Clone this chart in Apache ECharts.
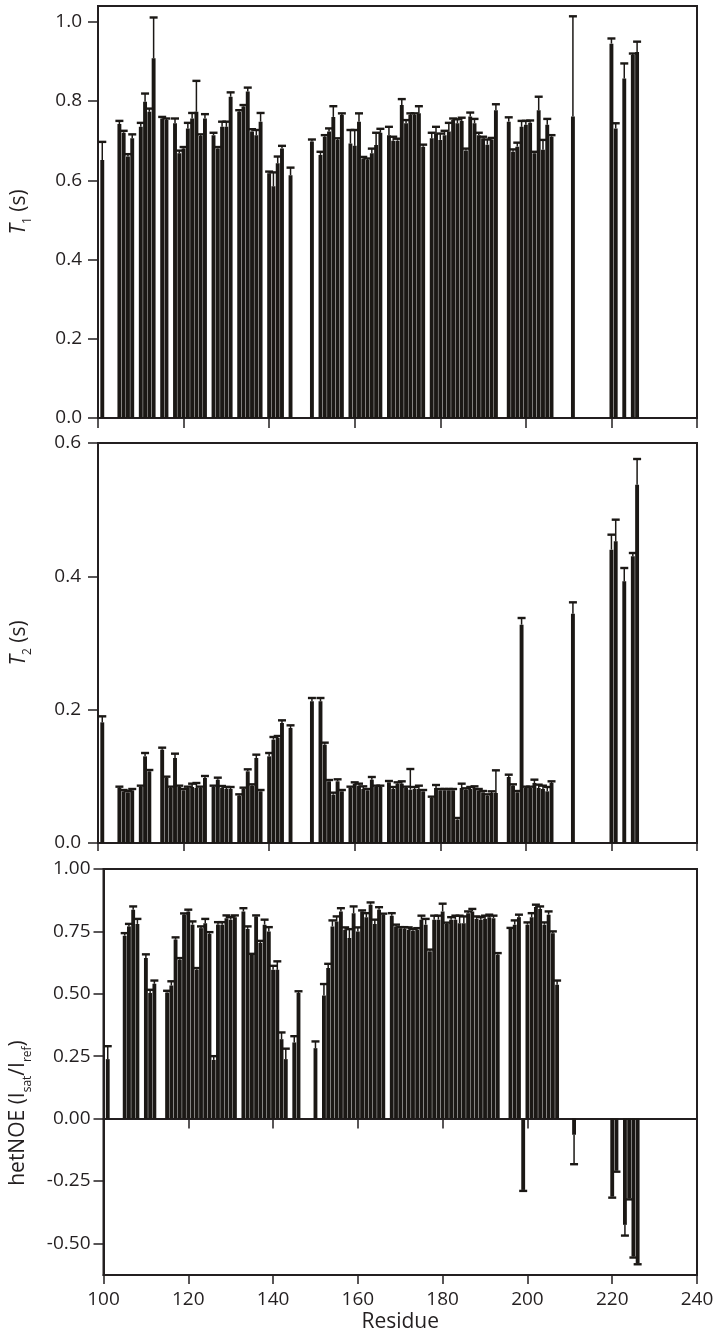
<!DOCTYPE html>
<html>
<head>
<meta charset="utf-8">
<script src="https://cdn.jsdelivr.net/npm/echarts@6/dist/echarts.min.js"></script>
<style>
html,body{margin:0;padding:0;background:#fff;}
#chart{width:722px;height:1336px;}
</style>
</head>
<body>
<div id="chart"></div>
<script>
// ---------- DATA ----------
const xTicks = [100, 120, 140, 160, 180, 200, 220, 240];
const t1Ticks = [0, 0.2, 0.4, 0.6, 0.8, 1.0];
const t2Ticks = [0, 0.2, 0.4, 0.6];
const noeTicks = [-0.5, -0.25, 0, 0.25, 0.5, 0.75, 1.0];

const t1Res = [101,105,106,107,108,110,111,112,113,115,116,118,119,120,121,122,123,124,125,127,128,129,130,131,133,134,135,136,137,138,140,141,142,143,145,150,152,153,154,155,156,157,159,160,161,162,163,164,165,166,168,169,170,171,172,173,174,175,176,178,179,180,181,182,183,184,185,186,187,188,189,190,191,192,193,196,197,198,199,200,201,202,203,204,205,206,211,220,221,223,225,226];
const t1Val = [0.651,0.742,0.720,0.660,0.706,0.735,0.798,0.773,0.908,0.756,0.752,0.744,0.668,0.680,0.731,0.756,0.773,0.712,0.756,0.714,0.680,0.735,0.735,0.811,0.773,0.786,0.824,0.723,0.714,0.748,0.618,0.585,0.643,0.680,0.613,0.698,0.664,0.710,0.723,0.760,0.702,0.765,0.693,0.687,0.748,0.655,0.651,0.668,0.689,0.720,0.714,0.700,0.700,0.790,0.744,0.765,0.765,0.769,0.685,0.706,0.718,0.702,0.714,0.723,0.752,0.744,0.750,0.675,0.761,0.744,0.714,0.706,0.690,0.703,0.777,0.748,0.672,0.685,0.735,0.740,0.745,0.668,0.777,0.677,0.740,0.710,0.761,0.945,0.731,0.857,0.916,0.924];
const t1Err = [0.046,0.008,0.005,0.006,0.010,0.010,0.021,0.008,0.103,0.004,0.004,0.012,0.007,0.004,0.014,0.014,0.078,0.004,0.011,0.006,0.004,0.013,0.013,0.011,0.004,0.004,0.010,0.006,0.013,0.022,0.004,0.035,0.017,0.007,0.019,0.005,0.008,0.004,0.008,0.027,0.004,0.004,0.034,0.040,0.021,0.004,0.004,0.012,0.031,0.010,0.021,0.010,0.005,0.015,0.008,0.004,0.004,0.018,0.005,0.014,0.017,0.016,0.011,0.022,0.004,0.010,0.008,0.005,0.010,0.011,0.006,0.004,0.013,0.004,0.015,0.011,0.006,0.010,0.015,0.010,0.006,0.004,0.034,0.025,0.015,0.004,0.253,0.013,0.013,0.038,0.004,0.026];

const t2Res = [101,105,106,107,108,110,111,112,115,116,117,118,119,120,121,122,123,124,125,127,128,129,130,131,133,134,135,136,137,138,140,141,142,143,145,150,152,153,154,155,156,157,159,160,161,162,163,164,165,166,168,169,170,171,172,173,174,175,176,178,179,180,181,182,183,184,185,186,187,188,189,190,191,192,193,196,197,198,199,200,201,202,203,204,205,206,211,220,221,223,225,226];
const t2Val = [0.181,0.0825,0.0775,0.076,0.079,0.084,0.130,0.1075,0.140,0.0975,0.0825,0.1275,0.084,0.079,0.0825,0.084,0.0825,0.0825,0.0975,0.084,0.095,0.0825,0.081,0.081,0.071,0.081,0.1075,0.086,0.1275,0.0775,0.130,0.155,0.1575,0.180,0.1725,0.2125,0.2125,0.1475,0.0925,0.0725,0.0925,0.0775,0.0825,0.089,0.086,0.081,0.079,0.095,0.084,0.084,0.091,0.081,0.089,0.089,0.0825,0.080,0.081,0.081,0.0775,0.0675,0.0825,0.079,0.079,0.079,0.079,0.035,0.0825,0.080,0.081,0.0825,0.079,0.076,0.071,0.075,0.075,0.099,0.086,0.076,0.3275,0.0825,0.0825,0.090,0.0825,0.081,0.0775,0.090,0.344,0.440,0.4525,0.3925,0.430,0.5375];
const t2Err = [0.009,0.002,0.002,0.002,0.002,0.002,0.005,0.002,0.003,0.002,0.002,0.0065,0.002,0.002,0.002,0.005,0.0075,0.002,0.003,0.002,0.003,0.003,0.003,0.003,0.002,0.002,0.003,0.002,0.005,0.002,0.005,0.004,0.003,0.004,0.004,0.005,0.005,0.003,0.002,0.003,0.003,0.002,0.002,0.002,0.003,0.004,0.002,0.004,0.002,0.002,0.002,0.003,0.002,0.0035,0.002,0.031,0.003,0.005,0.002,0.002,0.0045,0.002,0.002,0.002,0.002,0.0025,0.0065,0.002,0.003,0.0025,0.002,0.002,0.002,0.0025,0.034,0.0035,0.002,0.002,0.010,0.002,0.002,0.005,0.005,0.005,0.0065,0.0025,0.017,0.0225,0.0325,0.020,0.005,0.0385];

const noeRes = [101,105,106,107,108,110,111,112,115,116,117,118,119,120,121,122,123,124,125,126,127,128,129,130,131,133,134,135,136,137,138,139,140,141,142,143,145,146,150,152,153,154,155,156,157,158,159,160,161,162,163,164,165,166,168,169,170,171,172,173,174,175,176,177,178,179,180,181,182,183,184,185,186,187,188,189,190,191,192,193,196,197,198,199,200,201,202,203,204,205,206,207,211,220,221,223,224,225,226];
const noeVal = [0.238,0.733,0.770,0.837,0.780,0.643,0.503,0.540,0.505,0.533,0.717,0.636,0.817,0.830,0.777,0.596,0.763,0.783,0.740,0.235,0.777,0.777,0.803,0.797,0.807,0.830,0.760,0.656,0.810,0.703,0.777,0.750,0.596,0.596,0.318,0.238,0.305,0.503,0.282,0.493,0.603,0.770,0.790,0.830,0.757,0.723,0.823,0.750,0.830,0.807,0.857,0.780,0.837,0.817,0.813,0.770,0.763,0.760,0.757,0.753,0.757,0.797,0.777,0.670,0.797,0.797,0.830,0.780,0.797,0.797,0.783,0.783,0.823,0.830,0.800,0.797,0.800,0.807,0.803,0.656,0.760,0.777,0.807,-0.286,0.777,0.807,0.848,0.840,0.777,0.817,0.743,0.536,-0.065,-0.313,-0.209,-0.426,-0.320,-0.553,-0.580];
const noeErr = [0.052,0.010,0.010,0.013,0.020,0.015,0.013,0.013,0.007,0.017,0.009,0.007,0.005,0.007,0.013,0.007,0.007,0.017,0.007,0.015,0.010,0.010,0.011,0.010,0.007,0.013,0.010,0.004,0.004,0.009,0.020,0.017,0.016,0.034,0.027,0.042,0.025,0.007,0.027,0.046,0.017,0.024,0.020,0.013,0.009,0.036,0.027,0.016,0.004,0.016,0.009,0.017,0.010,0.004,0.010,0.007,0.004,0.007,0.009,0.007,0.006,0.016,0.023,0.007,0.016,0.016,0.031,0.005,0.010,0.016,0.030,0.027,0.007,0.010,0.010,0.010,0.013,0.010,0.010,0.007,0.004,0.017,0.010,0.004,0.009,0.016,0.009,0.010,0.009,0.013,0.007,0.017,0.118,0.004,0.004,0.043,0.004,0.004,0.004];

// ---------- STYLE ----------
const INK = '#231f20';
const BAR = '#1b1815';
const FONT = 'Open Sans';

function pairs(res, val) { return res.map((r, i) => [r, val[i]]); }
function triples(res, val, err) { return res.map((r, i) => [r, val[i], err[i]]); }

function errRender(params, api) {
  const x = api.value(0), y = api.value(1), e = api.value(2);
  const s = y < 0 ? -1 : 1;
  const p0 = api.coord([x, y]);
  const p1 = api.coord([x, y + s * e]);
  return {
    type: 'group',
    children: [
      { type: 'line', shape: { x1: p0[0], y1: p0[1], x2: p1[0], y2: p1[1] }, style: { stroke: BAR, lineWidth: 1.5 } },
      { type: 'line', shape: { x1: p1[0] - 4, y1: p1[1], x2: p1[0] + 4, y2: p1[1] }, style: { stroke: BAR, lineWidth: 2.4 } }
    ]
  };
}

const titleRich = {
  i: { fontFamily: FONT, fontSize: 21, fontStyle: 'italic', color: INK, lineHeight: 30 },
  n: { fontFamily: FONT, fontSize: 21, color: INK, lineHeight: 30 },
  s: { fontFamily: FONT, fontSize: 12, color: INK, verticalAlign: 'bottom', lineHeight: 12 }
};

function xAxisBase(gridIndex, tickLen) {
  return {
    type: 'value', gridIndex, min: 100, max: 240, interval: 20,
    position: 'bottom',
    axisLine: { show: true, onZero: false, lineStyle: { color: INK, width: 2 } },
    axisTick: { show: true, length: tickLen, customValues: xTicks, lineStyle: { color: INK, width: 1.5 } },
    axisLabel: { show: false },
    splitLine: { show: false }
  };
}

function yAxisBase(gridIndex, min, max, ticks, digits, margin, name, gap) {
  return {
    type: 'value', gridIndex, min, max,
    axisLine: { show: true, onZero: false, lineStyle: { color: INK, width: 2 } },
    axisTick: { show: true, length: 10, customValues: ticks, lineStyle: { color: INK, width: 1.5 } },
    axisLabel: {
      customValues: ticks, margin,
      formatter: v => v.toFixed(digits),
      color: INK, fontFamily: FONT, fontSize: 19
    },
    splitLine: { show: false },
    name, nameLocation: 'middle', nameRotate: 90, nameGap: gap,
    nameTextStyle: { rich: titleRich }
  };
}

const gridStyle = { show: true, borderColor: INK, borderWidth: 2, backgroundColor: 'transparent' };

const option = {
  animation: false,
  backgroundColor: '#ffffff',
  textStyle: { fontFamily: FONT },
  grid: [
    Object.assign({ left: 98, right: 25, top: 6, height: 412 }, gridStyle),
    Object.assign({ left: 98, right: 25, top: 443, height: 400 }, gridStyle),
    Object.assign({ left: 101, right: 25, top: 869, height: 406 }, gridStyle)
  ],
  xAxis: [
    xAxisBase(0, 10),
    xAxisBase(1, 8),
    {
      type: 'value', gridIndex: 2, min: 100, max: 240, interval: 20,
      position: 'top',
      axisLine: { show: true, onZero: true, lineStyle: { color: INK, width: 2 } },
      axisTick: { show: true, inside: true, length: 10, customValues: xTicks, lineStyle: { color: INK, width: 1.5 } },
      axisLabel: { show: false },
      splitLine: { show: false }
    },
    {
      type: 'value', gridIndex: 2, min: 100, max: 240, interval: 20,
      position: 'bottom',
      axisLine: { show: true, onZero: false, lineStyle: { color: INK, width: 2 } },
      axisTick: { show: true, length: 9, customValues: xTicks, lineStyle: { color: INK, width: 1.5 } },
      axisLabel: { customValues: xTicks, margin: 15, color: INK, fontFamily: FONT, fontSize: 19 },
      splitLine: { show: false },
      name: 'Residue', nameLocation: 'middle', nameGap: 37,
      nameTextStyle: { color: INK, fontFamily: FONT, fontSize: 21 }
    }
  ],
  yAxis: [
    yAxisBase(0, 0, 1.04, t1Ticks, 1, 16, '{i|T}{s|1}{n| (s)}', 64),
    yAxisBase(1, 0, 0.6, t2Ticks, 1, 17, '{i|T}{s|2}{n| (s)}', 64),
    (function () {
      const a = yAxisBase(2, -0.627, 1.0, noeTicks, 2, 13, '{n|hetNOE (I}{s|sat}{n|/I}{s|ref}{n|)}', 70);
      a.nameTextStyle.padding = [0, 82, 0, 0];
      return a;
    })()
  ],
  series: [
    { type: 'bar', xAxisIndex: 0, yAxisIndex: 0, barWidth: 3.9, itemStyle: { color: BAR }, data: pairs(t1Res, t1Val), z: 2 },
    { type: 'custom', xAxisIndex: 0, yAxisIndex: 0, renderItem: errRender, data: triples(t1Res, t1Val, t1Err), z: 3 },
    { type: 'bar', xAxisIndex: 1, yAxisIndex: 1, barWidth: 3.9, itemStyle: { color: BAR }, data: pairs(t2Res, t2Val), z: 2 },
    { type: 'custom', xAxisIndex: 1, yAxisIndex: 1, renderItem: errRender, data: triples(t2Res, t2Val, t2Err), z: 3 },
    { type: 'bar', xAxisIndex: 3, yAxisIndex: 2, barWidth: 3.85, itemStyle: { color: BAR }, data: pairs(noeRes, noeVal), z: 2 },
    { type: 'custom', xAxisIndex: 3, yAxisIndex: 2, renderItem: errRender, data: triples(noeRes, noeVal, noeErr), z: 3 }
  ]
};

const chart = echarts.init(document.getElementById('chart'), null, { renderer: 'canvas' });
chart.setOption(option);
</script>
</body>
</html>
